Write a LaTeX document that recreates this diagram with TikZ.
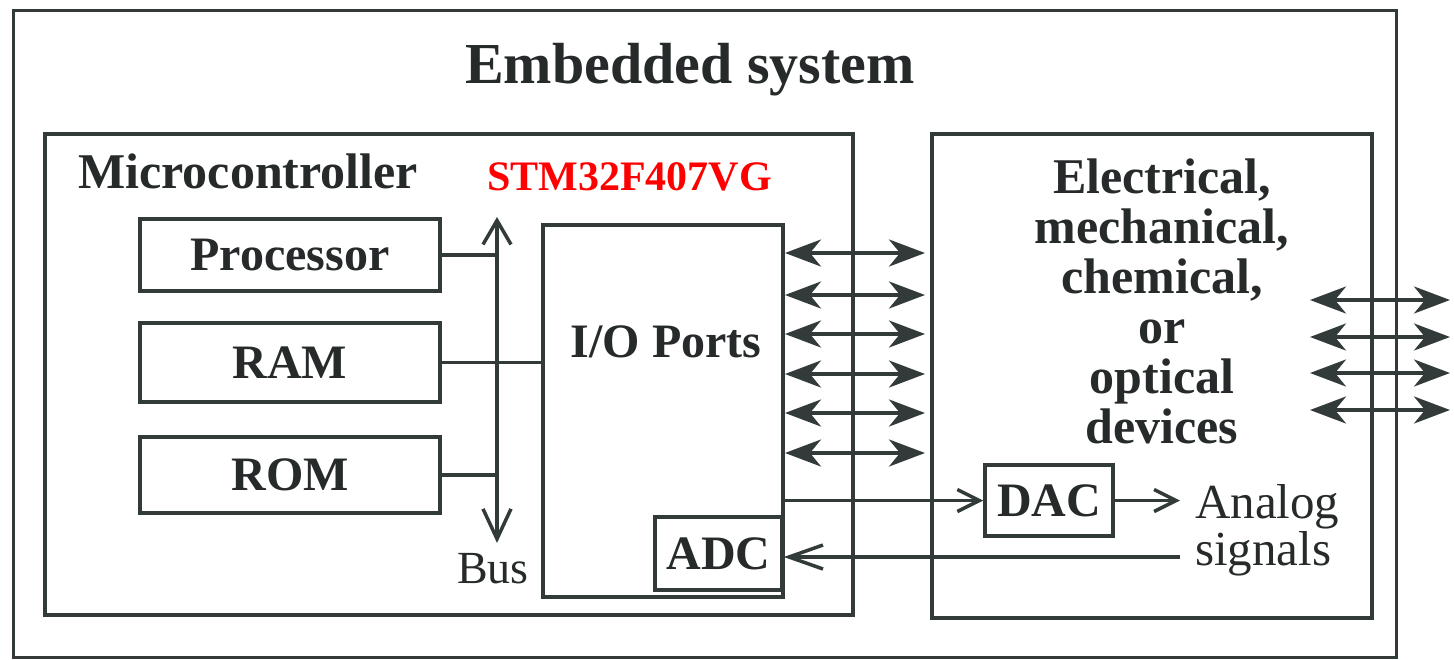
\documentclass[tikz,border=0pt]{standalone}
\usepackage{fontspec}
\setmainfont{Liberation Serif}
\usetikzlibrary{arrows.meta}
\definecolor{ink}{RGB}{50,58,58}
\definecolor{txt}{RGB}{38,42,42}
\begin{document}
\begin{tikzpicture}[x=1pt,y=-1pt,
  box/.style={draw=ink, line width=3.5pt, inner sep=0pt, rectangle},
  lbl/.style={text=txt, font=\fontsize{48}{48}\selectfont\bfseries, inner sep=0pt},
  plain/.style={text=txt, font=\fontsize{48}{48}\selectfont, inner sep=0pt},
  wire/.style={draw=ink, line width=3.5pt},
  dbl/.style={wire, {Stealth[length=36pt,width=27pt,inset=11pt]}-{Stealth[length=36pt,width=27pt,inset=11pt]}},
  barb/.style={wire, -{Straight Barb[length=22pt,width=22pt]}},
]
\useasboundingbox (0,0) rectangle (1454,659);

% outer box
\node[box, line width=3pt, minimum width=1383pt, minimum height=647pt] (outer) at (704.5,333.5) {};
\node[lbl, font=\fontsize{58}{58}\selectfont\bfseries, anchor=base] (title) at (690,83) {Embedded system};

% microcontroller
\node[box, minimum width=808pt, minimum height=481pt] (mcu) at (449,374.5) {};
\node[lbl, font=\fontsize{50}{50}\selectfont\bfseries, anchor=base west] (mcutitle) at (78,188) {Microcontroller};
\node[font=\fontsize{42}{42}\selectfont\bfseries, text=red, inner sep=0pt, anchor=base west] (part) at (487,190) {STM32F407VG};

\node[box, lbl, minimum width=300pt, minimum height=72pt] (proc) at (290,255) {Processor};
\node[box, lbl, minimum width=300pt, minimum height=79pt] (ram) at (290,362.5) {RAM};
\node[box, lbl, minimum width=300pt, minimum height=76pt] (rom) at (290,475) {ROM};

% bus
\coordinate (bustop) at (497,217);
\coordinate (busbot) at (497,543);
\draw[wire, {Straight Barb[length=24pt,width=28pt]}-{Straight Barb[length=30pt,width=28pt]}] (bustop) -- (busbot);
\node[plain, font=\fontsize{46}{46}\selectfont, anchor=base] (bus) at (493,583) {Bus};

\draw[wire] (proc.east) -- (proc.east -| bustop);
\draw[wire] (rom.east) -- (rom.east -| bustop);

% I/O ports
\node[box, minimum width=240pt, minimum height=372pt] (io) at (663,411) {};
\node[lbl, anchor=base] (iolbl) at (666,357) {I/O Ports};
\node[box, lbl, minimum width=127pt, minimum height=73pt] (adc) at (718.5,553.5) {ADC};
\draw[wire] (ram.east) -- (ram.east -| io.west);

% devices
\node[box, minimum width=440pt, minimum height=484pt] (dev) at (1152,376) {};
\node[lbl, font=\fontsize{50}{50}\selectfont\bfseries, align=center, anchor=north] (devlbl) at (1162,159)
  {Electrical,\\mechanical,\\chemical,\\or\\optical\\devices};
\node[box, lbl, minimum width=128pt, minimum height=71pt] (dac) at (1049,500.5) {DAC};

% port arrows
\foreach \y [count=\i] in {253,295,334,374,413,453} {
  \coordinate (pl\i) at (785,\y);
  \coordinate (pr\i) at (925,\y);
  \draw[dbl] (pl\i) -- (pr\i);
}

% DAC / ADC
\draw[barb] (dac.west -| io.east) -- (dac.west);
\coordinate (aout) at (1180,500.5);
\draw[barb] (dac.east) -- (aout);
\coordinate (ain) at (1180,557);
\draw[wire, -{Straight Barb[length=34pt,width=24pt]}] (ain) -- (ain -| adc.east);
\node[plain, font=\fontsize{49}{49}\selectfont, anchor=base west] (an1) at (1195,518) {Analog};
\node[plain, font=\fontsize{49}{49}\selectfont, anchor=base west] (an2) at (1195,565) {signals};

% external arrows
\foreach \y [count=\i] in {300,337,373,410} {
  \coordinate (el\i) at (1310,\y);
  \coordinate (er\i) at (1450,\y);
  \draw[dbl] (el\i) -- (er\i);
}
\end{tikzpicture}
\end{document}
